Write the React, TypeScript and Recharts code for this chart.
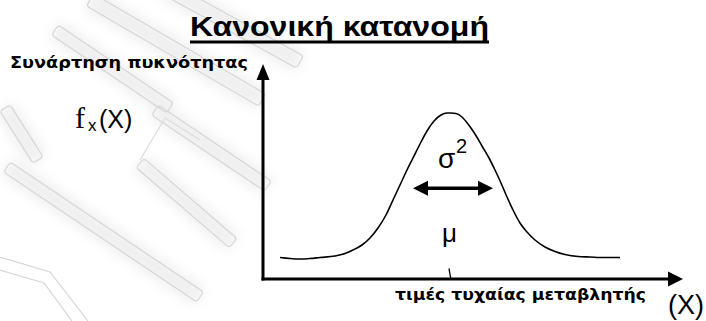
import React from "react";
import { LineChart, Line, XAxis, YAxis, ReferenceLine, ReferenceDot } from "recharts";

// Bell-shaped density curve, sampled by hand along the sketch (x along the axis, y = height above it)
const densityX = [17, 27, 37, 47, 57, 72, 82, 90, 99, 107, 115, 123, 130, 137, 144, 150, 157, 164, 171, 178, 184, 188, 193, 199, 205, 212, 219, 226, 232, 238, 244, 250, 257, 264, 272, 282, 292, 302, 315, 327, 342, 357];
const densityY = [21.5, 20.5, 20, 20.5, 21.5, 23, 25.5, 29, 34, 41, 51, 64, 79, 94, 109, 121, 135, 148, 158, 164, 166, 166, 165.5, 162, 155, 145, 133, 121, 109, 96, 82, 69, 56, 47, 39, 32, 27.5, 24.5, 22.5, 22, 21.5, 21.5];

// Axis extents
const xDomain = [0, 420];
const yDomain = [0, 215];

// Spread marker (σ²) and mean tick (μ)
const spreadFrom = 150;
const spreadTo = 230;
const spreadLevel = 90.7;
const meanTick = [
  { x: 186, y: 10.7 },
  { x: 187.7, y: 0.7 },
];

const data = densityX.map((x, i) => ({ x, y: densityY[i] }));

const ArrowRight = (props: any) => (
  <polygon points={`${props.cx},${props.cy} ${props.cx - 15},${props.cy - 7.5} ${props.cx - 15},${props.cy + 7.5}`} fill="#000" />
);
const ArrowUp = (props: any) => (
  <polygon points={`${props.cx},${props.cy} ${props.cx - 6.5},${props.cy + 16} ${props.cx + 6.5},${props.cy + 16}`} fill="#000" />
);
const HeadLeft = (props: any) => (
  <polygon points={`${props.cx},${props.cy} ${props.cx + 15},${props.cy - 7.5} ${props.cx + 15},${props.cy + 7.5}`} fill="#000" />
);
const HeadRight = (props: any) => (
  <polygon points={`${props.cx},${props.cy} ${props.cx - 15},${props.cy - 7.5} ${props.cx - 15},${props.cy + 7.5}`} fill="#000" />
);

// Faint background emblem: rounded diagonal bands
const bands = [
  { x1: 90, y1: 0, x2: 262, y2: 100, w: 14 },
  { x1: 160, y1: -15, x2: 300, y2: 62, w: 14 },
  { x1: 55, y1: 30, x2: 170, y2: 108, w: 12 },
  { x1: 155, y1: 110, x2: 268, y2: 186, w: 12 },
  { x1: 140, y1: 163, x2: 233, y2: 243, w: 12 },
  { x1: 7, y1: 167, x2: 200, y2: 297, w: 12 },
  { x1: 5, y1: 108, x2: 38, y2: 160, w: 12 },
];

function Emblem() {
  return (
    <svg width={706} height={321} style={{ position: "absolute", left: 0, top: 0 }}>
      <defs>
        <filter id="soft" x="-30%" y="-80%" width="160%" height="260%">
          <feGaussianBlur stdDeviation="6" />
        </filter>
      </defs>
      {bands.map((b, i) => {
        const len = Math.hypot(b.x2 - b.x1, b.y2 - b.y1);
        const ang = (Math.atan2(b.y2 - b.y1, b.x2 - b.x1) * 180) / Math.PI;
        return (
          <g key={"s" + i} transform={`translate(${b.x1},${b.y1}) rotate(${ang})`}>
            <rect x={0} y={-b.w / 2 - 4} width={len} height={b.w + 8} fill="#efefef" filter="url(#soft)" />
          </g>
        );
      })}
      {bands.map((b, i) => {
        const len = Math.hypot(b.x2 - b.x1, b.y2 - b.y1);
        const ang = (Math.atan2(b.y2 - b.y1, b.x2 - b.x1) * 180) / Math.PI;
        return (
          <g key={"o" + i} transform={`translate(${b.x1},${b.y1}) rotate(${ang})`}>
            <rect x={0} y={-b.w / 2} width={len} height={b.w} rx={3} fill="none" stroke="#d6d6d6" strokeWidth={1.2} />
          </g>
        );
      })}
      <polyline points="0,257 50,272 88,321" fill="none" stroke="#d6d6d6" strokeWidth={1.2} />
      <polyline points="0,270 44,283 72,321" fill="none" stroke="#d6d6d6" strokeWidth={1.2} />
      <polyline points="140,160 165,118 200,140" fill="none" stroke="#dcdcdc" strokeWidth={1.2} />
    </svg>
  );
}

function Labels() {
  const sans = "'Liberation Sans', Arial, sans-serif";
  const wide = "'DejaVu Sans', Verdana, sans-serif";
  return (
    <svg width={706} height={321} style={{ position: "absolute", left: 0, top: 0 }}>
      <text x={190} y={36} fontFamily={sans} fontWeight="bold" fontSize={28} textLength={299} lengthAdjust="spacingAndGlyphs">
        Κανονική κατανομή
      </text>
      <rect x={190} y={40.5} width={299} height={3} fill="#000" />
      <text x={10} y={68} fontFamily={wide} fontWeight="bold" fontSize={16.5} textLength={238} lengthAdjust="spacingAndGlyphs">
        Συνάρτηση πυκνότητας
      </text>
      <text x={75} y={128} fontFamily="'Liberation Serif', 'Times New Roman', serif" fontSize={30}>
        f
      </text>
      <text x={88} y={131} fontFamily={sans} fontSize={17}>
        x
      </text>
      <text x={99} y={128} fontFamily={sans} fontSize={25}>
        (X)
      </text>
      <text x={438} y={168} fontFamily={sans} fontSize={28}>
        σ
      </text>
      <text x={456} y={153} fontFamily={sans} fontSize={20}>
        2
      </text>
      <text x={442} y={242} fontFamily={sans} fontSize={26}>
        μ
      </text>
      <text x={395} y={300} fontFamily={wide} fontWeight="bold" fontSize={16.5} textLength={251} lengthAdjust="spacingAndGlyphs">
        τιμές τυχαίας μεταβλητής
      </text>
      <text x={668} y={314} fontFamily={sans} fontSize={27}>
        (X)
      </text>
    </svg>
  );
}

export default function App() {
  return (
    <div style={{ position: "absolute", left: 0, top: 0, width: 706, height: 321, background: "#fff", overflow: "hidden" }}>
      <Emblem />
      <div style={{ position: "absolute", left: 0, top: 0 }}>
        <LineChart width={706} height={321} data={data} margin={{ top: 64, right: 23, bottom: 42, left: 263 }}>
          <XAxis dataKey="x" type="number" domain={xDomain} allowDataOverflow hide />
          <YAxis type="number" domain={yDomain} allowDataOverflow hide />
          {/* axes with arrowheads */}
          <ReferenceLine
            segment={[
              { x: -1.5, y: 0 },
              { x: xDomain[1] - 10, y: 0 },
            ]}
            stroke="#000"
            strokeWidth={3}
            ifOverflow="visible"
          />
          <ReferenceLine
            segment={[
              { x: 0, y: -1.5 },
              { x: 0, y: yDomain[1] - 10 },
            ]}
            stroke="#000"
            strokeWidth={3}
            ifOverflow="visible"
          />
          <ReferenceDot x={xDomain[1]} y={0} ifOverflow="visible" shape={ArrowRight} />
          <ReferenceDot x={0} y={yDomain[1]} ifOverflow="visible" shape={ArrowUp} />
          <Line dataKey="y" type="monotone" stroke="#000" strokeWidth={1.6} dot={false} isAnimationActive={false} />
          <ReferenceLine
            segment={[
              { x: spreadFrom + 8, y: spreadLevel },
              { x: spreadTo - 8, y: spreadLevel },
            ]}
            stroke="#000"
            strokeWidth={3.5}
            ifOverflow="visible"
          />
          <ReferenceDot x={spreadFrom} y={spreadLevel} ifOverflow="visible" shape={HeadLeft} />
          <ReferenceDot x={spreadTo} y={spreadLevel} ifOverflow="visible" shape={HeadRight} />
          <ReferenceLine segment={meanTick} stroke="#000" strokeWidth={1.3} ifOverflow="visible" />
        </LineChart>
      </div>
      <Labels />
    </div>
  );
}
